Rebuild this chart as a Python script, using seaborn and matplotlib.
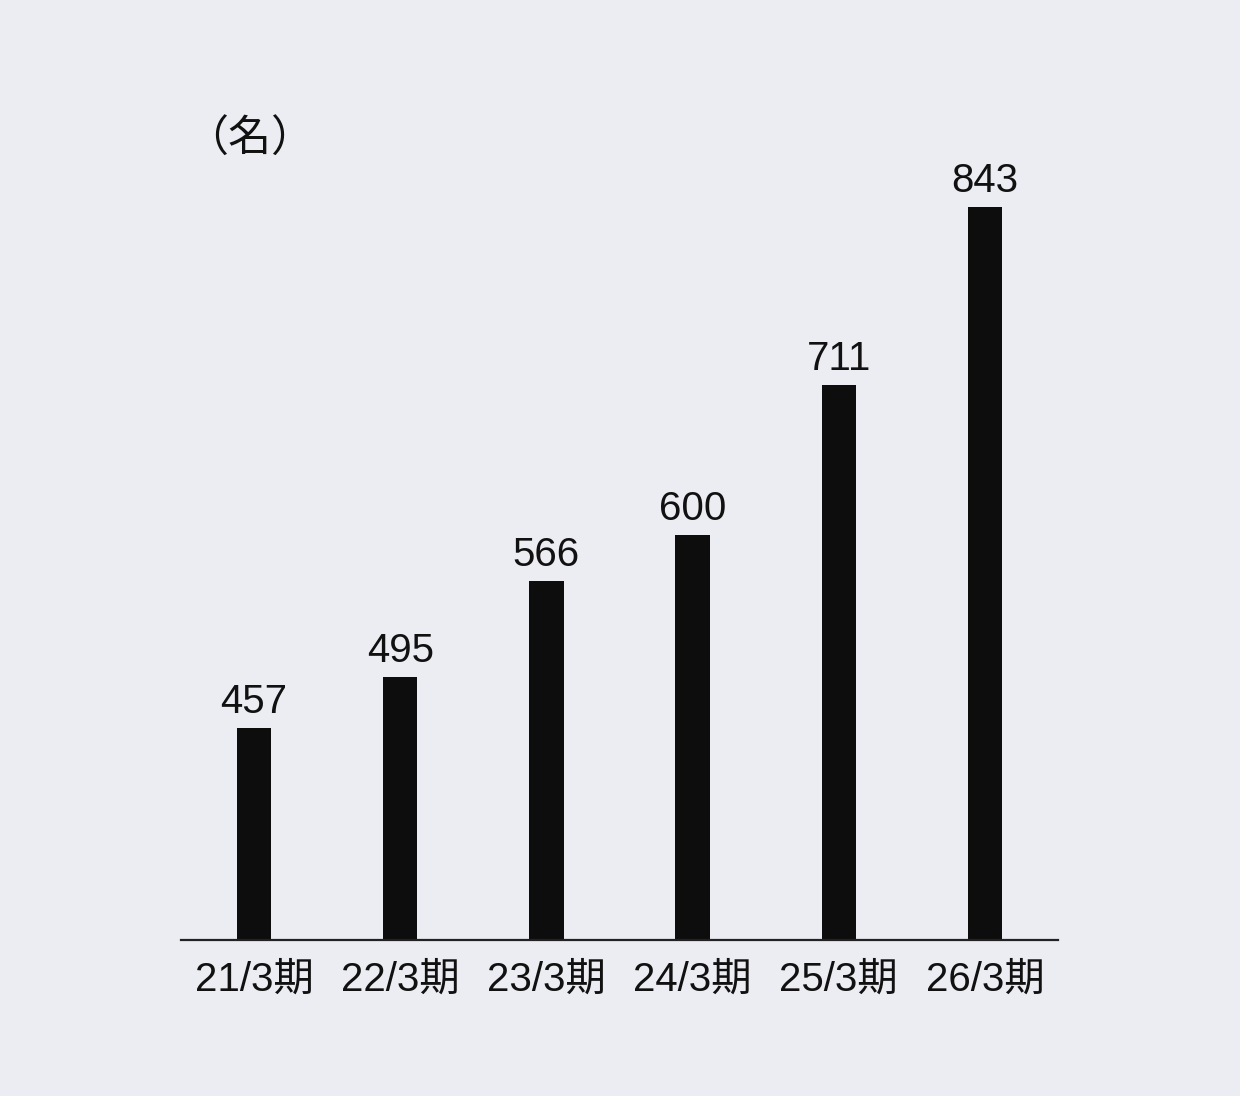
import matplotlib
matplotlib.use("Agg")
import matplotlib.pyplot as plt
import seaborn as sns
import pandas as pd

periods = ["21/3期", "22/3期", "23/3期", "24/3期", "25/3期", "26/3期"]
staff = [457, 495, 566, 600, 711, 843]
unit_label = "（名）"

BG = "#ECEDF2"
BAR = "#0D0D0D"

sns.set_theme(style="white")
plt.rcParams["font.family"] = ["Liberation Sans", "Noto Sans CJK JP", "DejaVu Sans"]

df = pd.DataFrame({"period": periods, "staff": staff})

fig = plt.figure(figsize=(12.4, 10.96), dpi=100, facecolor=BG)
ax = fig.add_axes([181 / 1240, 156 / 1096, 877 / 1240, 840 / 1096])
ax.set_facecolor(BG)

sns.barplot(data=df, x="period", y="staff", color=BAR, width=0.235,
            saturation=1, linewidth=0, ax=ax)

ax.set_xlim(-0.5, len(periods) - 0.5)
ax.set_ylim(300, 922)

for i, v in enumerate(staff):
    ax.annotate(f"{v}", (i, v), xytext=(0, 5), textcoords="offset points",
                ha="center", va="bottom", fontsize=29, color="#111111")

for side in ["top", "right", "left"]:
    ax.spines[side].set_visible(False)
ax.spines["bottom"].set_color("#222222")
ax.spines["bottom"].set_linewidth(1.6)

ax.set_yticks([])
ax.set_xlabel("")
ax.set_ylabel("")
ax.tick_params(axis="x", length=0, pad=15, labelsize=29, labelcolor="#111111")

fig.text(185 / 1240, 1 - 140 / 1096, unit_label, fontsize=31, color="#111111",
         ha="left", va="center", family=["Noto Sans CJK JP", "DejaVu Sans"])

fig.savefig("out.png", dpi=100, facecolor=BG)
